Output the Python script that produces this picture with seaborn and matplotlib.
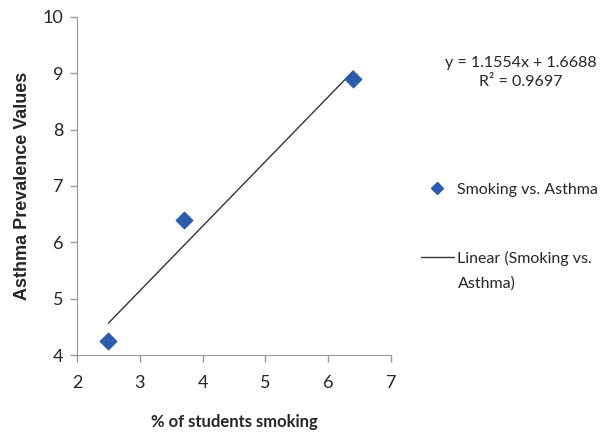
import numpy as np
import pandas as pd
import matplotlib
matplotlib.use("Agg")
import matplotlib.pyplot as plt
import seaborn as sns
from matplotlib.lines import Line2D

# data
smoking = [2.5, 3.7, 6.4]
asthma = [4.25, 6.4, 8.9]
x_ticks = [2, 3, 4, 5, 6, 7]
y_ticks = [4, 5, 6, 7, 8, 9, 10]
equation = "y = 1.1554x + 1.6688\nR² = 0.9697"

df = pd.DataFrame({"smoking": smoking, "asthma": asthma})

sns.set_style("white")
plt.rcParams['font.family'] = ['Lato', 'DejaVu Sans']

fig = plt.figure(figsize=(6.11, 4.32), dpi=100)
ax = fig.add_axes([0.126, 0.178, 0.514, 0.783])

# trendline first, markers on top
sns.regplot(data=df, x="smoking", y="asthma", scatter=False, ci=None,
            line_kws={"color": "#333333", "lw": 1.0}, ax=ax)
sns.scatterplot(data=df, x="smoking", y="asthma", marker="D", s=75,
                color="#2a5caa", edgecolor="#2a5caa", ax=ax, zorder=3)

ax.set_xlim(2, 7)
ax.set_ylim(4, 10)
ax.set_xticks(x_ticks)
ax.set_yticks(y_ticks)
ax.tick_params(axis="both", labelsize=13, length=5, width=1, color="#999999",
               direction="out", bottom=True, left=True)
ax.tick_params(axis="x", pad=9)
ax.tick_params(axis="y", pad=5)
for side in ["top", "right"]:
    ax.spines[side].set_visible(False)
for side in ["left", "bottom"]:
    ax.spines[side].set_color("#999999")

ax.set_xlabel("% of students smoking", fontsize=12, fontweight="bold", labelpad=17)
ax.set_ylabel("Asthma Prevalence Values", fontsize=13, fontweight="bold",
              family=["Liberation Sans", "DejaVu Sans"], labelpad=8)

# equation text
fig.text(0.852, 0.832, equation, ha="center", va="center", fontsize=11.5,
         linespacing=1.5)

# legend
handles = [
    Line2D([], [], marker="D", linestyle="none", color="#2a5caa", markersize=6.5),
    Line2D([], [], color="#333333", lw=1.0),
]
labels = ["Smoking vs. Asthma", "Linear (Smoking vs."]
fig.legend(handles, labels, loc="upper left", bbox_to_anchor=(0.665, 0.61),
           frameon=False, fontsize=11.5, labelspacing=3.35, handlelength=2.1,
           handletextpad=0.2)
fig.text(0.75, 1 - 284 / 432, "Asthma)", ha="left", va="center", fontsize=11.5)

fig.savefig("out.png", dpi=100)
